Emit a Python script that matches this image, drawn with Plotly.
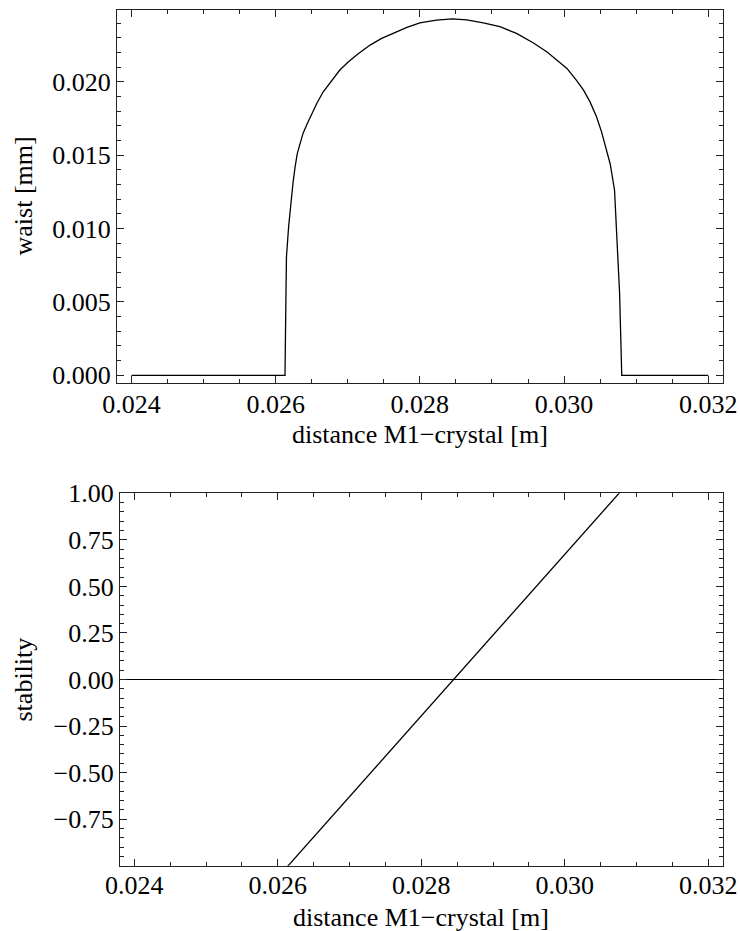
import plotly.graph_objects as go

# waist vs distance
dist_waist = [0.02400, 0.02613, 0.02614, 0.02615, 0.02618, 0.02620, 0.02624, 0.02627,
              0.02630, 0.02634, 0.02638, 0.02643, 0.02650, 0.02657, 0.02666, 0.02678,
              0.02689, 0.02701, 0.02715, 0.02731, 0.02747, 0.02763, 0.02782, 0.02800,
              0.02823, 0.02845, 0.02865, 0.02888, 0.02911, 0.02934, 0.02957, 0.02976,
              0.02990, 0.03004, 0.03017, 0.03027, 0.03036, 0.03045, 0.03052, 0.03059,
              0.03064, 0.03070, 0.03077, 0.03080, 0.03200]
waist_mm = [0.0, 0.0, 0.00423, 0.00807, 0.01011, 0.01125, 0.01307, 0.01420,
            0.01511, 0.01580, 0.01648, 0.01705, 0.01784, 0.01852, 0.01932, 0.02011,
            0.02080, 0.02136, 0.02193, 0.02250, 0.02296, 0.02330, 0.02371, 0.02402,
            0.02420, 0.02429, 0.02422, 0.02402, 0.02375, 0.02330, 0.02266, 0.02204,
            0.02148, 0.02091, 0.02011, 0.01943, 0.01863, 0.01761, 0.01659, 0.01534,
            0.01440, 0.01261, 0.00559, 0.0, 0.0]

# stability vs distance (straight line, clipped by axis range)
dist_stab = [0.02400, 0.03200]
stability = [-1.93, 1.54]

x_ticks = [0.024, 0.026, 0.028, 0.030, 0.032]
y1_ticks = [0.000, 0.005, 0.010, 0.015, 0.020]
y2_ticks = [-0.75, -0.50, -0.25, 0.00, 0.25, 0.50, 0.75, 1.00]

x_title = "distance M1\u2212crystal [m]"
y1_title = "waist [mm]"
y2_title = "stability"

W, H = 740, 931
FONT = "Liberation Serif"
FS = 26

fig = go.Figure()
fig.add_trace(go.Scatter(x=dist_waist, y=waist_mm, mode="lines",
                         line=dict(color="black", width=1.3), xaxis="x", yaxis="y",
                         showlegend=False))
fig.add_trace(go.Scatter(x=dist_stab, y=stability, mode="lines",
                         line=dict(color="black", width=1.3), xaxis="x2", yaxis="y2",
                         showlegend=False))

axis_common = dict(showline=True, linecolor="#222", linewidth=1.2, mirror="ticks",
                   ticks="inside", ticklen=7, tickwidth=1.2, tickcolor="#222",
                   showgrid=False, automargin=False,
                   tickfont=dict(family=FONT, size=FS, color="black"))


def minor(dt, t0):
    return dict(dtick=dt, tick0=t0, ticklen=4, ticks="inside",
                tickcolor="#222", tickwidth=1.1)


xrange_ = [0.0238, 0.0322]

fig.update_layout(
    width=W, height=H, autosize=False,
    margin=dict(l=0, r=0, t=0, b=0),
    paper_bgcolor="white", plot_bgcolor="white",
    font=dict(family=FONT, color="black", size=FS),
    showlegend=False,
    xaxis=dict(domain=[117 / W, 722.7 / W], anchor="y", range=xrange_,
               tickvals=x_ticks, tickformat=".3f", zeroline=False,
               ticklabelstandoff=-3,
               minor=minor(0.0005, 0.024), **axis_common),
    yaxis=dict(domain=[1 - 383.3 / H, 1 - 10 / H], anchor="x",
               range=[-0.000545, 0.02489], tickvals=y1_ticks, tickformat=".3f",
               zeroline=False, minor=minor(0.001, 0), **axis_common),
    xaxis2=dict(domain=[120 / W, 722.7 / W], anchor="y2", range=xrange_,
                tickvals=x_ticks, tickformat=".3f", zeroline=False,
                ticklabelstandoff=-4,
                minor=minor(0.0005, 0.024), **axis_common),
    yaxis2=dict(domain=[1 - 865.7 / H, 1 - 493.3 / H], anchor="x2",
                range=[-1.0, 1.0], tickvals=y2_ticks, tickformat=".2f",
                zeroline=True, zerolinecolor="black", zerolinewidth=1.2,
                minor=minor(0.05, 0), **axis_common),
)

title_font = dict(family=FONT, size=FS, color="black")
fig.add_annotation(text=x_title, xref="paper", yref="paper",
                   x=420 / W, y=1 - 435 / H, xanchor="center", yanchor="middle",
                   showarrow=False, font=title_font)
fig.add_annotation(text=x_title, xref="paper", yref="paper",
                   x=421.4 / W, y=1 - 917 / H, xanchor="center", yanchor="middle",
                   showarrow=False, font=title_font)
fig.add_annotation(text=y1_title, xref="paper", yref="paper", textangle=-90,
                   x=23 / W, y=1 - 196.5 / H, xanchor="center", yanchor="middle",
                   showarrow=False, font=title_font)
fig.add_annotation(text=y2_title, xref="paper", yref="paper", textangle=-90,
                   x=23 / W, y=1 - 679.5 / H, xanchor="center", yanchor="middle",
                   showarrow=False, font=title_font)

fig.write_html("out.html")
